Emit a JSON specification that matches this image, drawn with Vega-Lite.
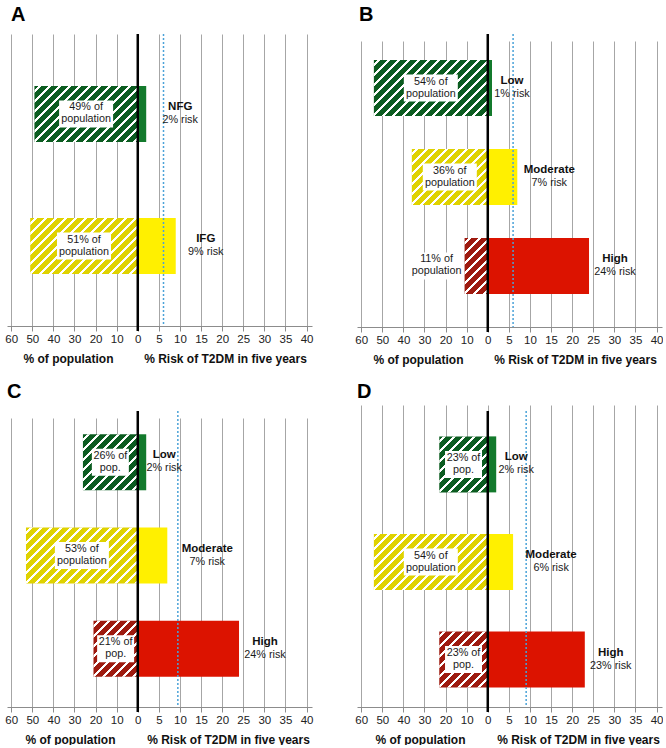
{
"$schema":"https://vega.github.io/schema/vega-lite/v6.json",
"padding":{"left":4,"top":4,"right":0,"bottom":0},
"params":[{"name":"hatchStops","value":[
{"offset":0,"color":"rgba(255,255,255,0)"},
{"offset":0.0222,"color":"rgba(255,255,255,0)"},{"offset":0.0222,"color":"#ffffff"},{"offset":0.0389,"color":"#ffffff"},{"offset":0.0389,"color":"rgba(255,255,255,0)"},
{"offset":0.0778,"color":"rgba(255,255,255,0)"},{"offset":0.0778,"color":"#ffffff"},{"offset":0.0944,"color":"#ffffff"},{"offset":0.0944,"color":"rgba(255,255,255,0)"},
{"offset":0.1333,"color":"rgba(255,255,255,0)"},{"offset":0.1333,"color":"#ffffff"},{"offset":0.15,"color":"#ffffff"},{"offset":0.15,"color":"rgba(255,255,255,0)"},
{"offset":0.1889,"color":"rgba(255,255,255,0)"},{"offset":0.1889,"color":"#ffffff"},{"offset":0.2056,"color":"#ffffff"},{"offset":0.2056,"color":"rgba(255,255,255,0)"},
{"offset":0.2444,"color":"rgba(255,255,255,0)"},{"offset":0.2444,"color":"#ffffff"},{"offset":0.2611,"color":"#ffffff"},{"offset":0.2611,"color":"rgba(255,255,255,0)"},
{"offset":0.3,"color":"rgba(255,255,255,0)"},{"offset":0.3,"color":"#ffffff"},{"offset":0.3167,"color":"#ffffff"},{"offset":0.3167,"color":"rgba(255,255,255,0)"},
{"offset":0.3556,"color":"rgba(255,255,255,0)"},{"offset":0.3556,"color":"#ffffff"},{"offset":0.3722,"color":"#ffffff"},{"offset":0.3722,"color":"rgba(255,255,255,0)"},
{"offset":0.4111,"color":"rgba(255,255,255,0)"},{"offset":0.4111,"color":"#ffffff"},{"offset":0.4278,"color":"#ffffff"},{"offset":0.4278,"color":"rgba(255,255,255,0)"},
{"offset":0.4667,"color":"rgba(255,255,255,0)"},{"offset":0.4667,"color":"#ffffff"},{"offset":0.4833,"color":"#ffffff"},{"offset":0.4833,"color":"rgba(255,255,255,0)"},
{"offset":0.5222,"color":"rgba(255,255,255,0)"},{"offset":0.5222,"color":"#ffffff"},{"offset":0.5389,"color":"#ffffff"},{"offset":0.5389,"color":"rgba(255,255,255,0)"},
{"offset":0.5778,"color":"rgba(255,255,255,0)"},{"offset":0.5778,"color":"#ffffff"},{"offset":0.5944,"color":"#ffffff"},{"offset":0.5944,"color":"rgba(255,255,255,0)"},
{"offset":0.6333,"color":"rgba(255,255,255,0)"},{"offset":0.6333,"color":"#ffffff"},{"offset":0.65,"color":"#ffffff"},{"offset":0.65,"color":"rgba(255,255,255,0)"},
{"offset":0.6889,"color":"rgba(255,255,255,0)"},{"offset":0.6889,"color":"#ffffff"},{"offset":0.7056,"color":"#ffffff"},{"offset":0.7056,"color":"rgba(255,255,255,0)"},
{"offset":0.7444,"color":"rgba(255,255,255,0)"},{"offset":0.7444,"color":"#ffffff"},{"offset":0.7611,"color":"#ffffff"},{"offset":0.7611,"color":"rgba(255,255,255,0)"},
{"offset":0.8,"color":"rgba(255,255,255,0)"},{"offset":0.8,"color":"#ffffff"},{"offset":0.8167,"color":"#ffffff"},{"offset":0.8167,"color":"rgba(255,255,255,0)"},
{"offset":0.8556,"color":"rgba(255,255,255,0)"},{"offset":0.8556,"color":"#ffffff"},{"offset":0.8722,"color":"#ffffff"},{"offset":0.8722,"color":"rgba(255,255,255,0)"},
{"offset":0.9111,"color":"rgba(255,255,255,0)"},{"offset":0.9111,"color":"#ffffff"},{"offset":0.9278,"color":"#ffffff"},{"offset":0.9278,"color":"rgba(255,255,255,0)"},
{"offset":0.9667,"color":"rgba(255,255,255,0)"},{"offset":0.9667,"color":"#ffffff"},{"offset":0.9833,"color":"#ffffff"},{"offset":0.9833,"color":"rgba(255,255,255,0)"},
{"offset":1,"color":"rgba(255,255,255,0)"}
]}],
"config":{
"view":{"stroke":null},
"font":"Liberation Sans",
"title":{"anchor":"start","fontSize":20,"fontWeight":"bold","font":"Liberation Sans","color":"#000","offset":8,"baseline":"alphabetic","frame":"group"},
"axis":{"labelFont":"Liberation Sans","titleFont":"Liberation Sans","labelFlush":false,"labelOverlap":false,"labelBound":false},
"text":{"color":"#1a1a1a","align":"center","baseline":"middle"}
},
"spacing":15,
"vconcat":[
{"spacing":41,"hconcat":[
{"width":305,"height":292,"title":{"text":"A","dx":4},
"data":{"values":[{"cat":"NFG","pop":49,"risk":2,"popLine1":"49% of","popLine2":"population","riskLabel":"2% risk"},{"cat":"IFG","pop":51,"risk":9,"popLine1":"51% of","popLine2":"population","riskLabel":"9% risk"}]},
"resolve":{"scale":{"x":"independent"},"axis":{"x":"independent"}},
"layer":[
{"mark":{"type":"bar","height":56},"encoding":{"x":{"field":"pop","type":"quantitative","scale":{"domain":[-82.6,62],"reverse":true,"nice":false,"zero":false},"axis":{"orient":"bottom","labels":false,"ticks":false,"domain":false,"grid":false,"title":"% of population","titleFontSize":12,"titleFontWeight":"bold","titleColor":"#111","titleX":61,"titleY":36.5,"titleBaseline":"alphabetic"}},"x2":{"datum":0},"y":{"field":"cat","type":"nominal","scale":{"domain":["NFG","IFG"],"paddingInner":0.5,"paddingOuter":0.356},"axis":null},"fill":{"field":"cat","type":"nominal","scale":{"domain":["NFG","IFG","Low","Moderate","High"],"range":["#0b5c20","#dfd200","#0b5c20","#dfd200","#9e1a0f"]},"legend":null}}},
{"mark":{"type":"bar","height":56},"encoding":{"x":{"field":"pop","type":"quantitative","scale":{"domain":[-82.6,62],"reverse":true,"nice":false,"zero":false},"axis":null},"x2":{"datum":0},"y":{"field":"cat","type":"nominal","scale":{"domain":["NFG","IFG"],"paddingInner":0.5,"paddingOuter":0.356},"axis":null},"fill":{"value":{"expr":"{'gradient':'linear','x1':0,'y1':0,'x2':180*datum.pop*2.10927/(pow(datum.pop*2.10927,2)+3136),'y2':10080/(pow(datum.pop*2.10927,2)+3136),'stops':hatchStops}"}}}},
{"mark":{"type":"point","shape":{"expr":"datum.popLine2=='population'?'M-27,-13.5L27,-13.5L27,13.5L-27,13.5Z':'M-18.5,-13.5L18.5,-13.5L18.5,13.5L-18.5,13.5Z'"},"size":4,"filled":true,"color":"#ffffff","opacity":1,"strokeWidth":0},"encoding":{"x":{"field":"pop","type":"quantitative","scale":{"domain":[-165.2,124],"reverse":true,"nice":false,"zero":false},"axis":null},"y":{"field":"cat","type":"nominal","scale":{"domain":["NFG","IFG"],"paddingInner":0.5,"paddingOuter":0.356},"axis":null}}},
{"mark":{"type":"text","fontSize":10.8,"dy":-6.5},"encoding":{"x":{"field":"pop","type":"quantitative","scale":{"domain":[-165.2,124],"reverse":true,"nice":false,"zero":false},"axis":null},"y":{"field":"cat","type":"nominal","scale":{"domain":["NFG","IFG"],"paddingInner":0.5,"paddingOuter":0.356},"axis":null},"text":{"field":"popLine1"}}},
{"mark":{"type":"text","fontSize":10.8,"dy":5.5},"encoding":{"x":{"field":"pop","type":"quantitative","scale":{"domain":[-165.2,124],"reverse":true,"nice":false,"zero":false},"axis":null},"y":{"field":"cat","type":"nominal","scale":{"domain":["NFG","IFG"],"paddingInner":0.5,"paddingOuter":0.356},"axis":null},"text":{"field":"popLine2"}}},
{"mark":{"type":"bar","height":56},"encoding":{"x":{"field":"risk","type":"quantitative","scale":{"domain":[-31,41.3],"nice":false,"zero":false},"axis":{"orient":"bottom","values":[-30,-25,-20,-15,-10,-5,0,5,10,15,20,25,30,35,40],"labelExpr":"datum.value < 0 ? format(-2*datum.value,'d') : datum.label","grid":true,"gridColor":"#a6a6a6","gridWidth":1,"domainColor":"#8c8c8c","domainWidth":1,"tickColor":"#8c8c8c","tickWidth":1,"tickSize":5,"labelFontSize":11.5,"labelColor":"#222","labelPadding":2,"title":"% Risk of T2DM in five years","titleFontSize":12,"titleFontWeight":"bold","titleColor":"#111","titleX":218,"titleY":36.5,"titleBaseline":"alphabetic"}},"x2":{"datum":0},"y":{"field":"cat","type":"nominal","scale":{"domain":["NFG","IFG"],"paddingInner":0.5,"paddingOuter":0.356},"axis":null},"color":{"field":"cat","type":"nominal","scale":{"domain":["NFG","IFG","Low","Moderate","High"],"range":["#137a2c","#fff000","#137a2c","#fff000","#dc1300"]},"legend":null}}},
{"data":{"values":[{}]},"mark":{"type":"rule","color":"#000","strokeWidth":2.5,"y2":297},"encoding":{"x":{"datum":0,"type":"quantitative","scale":{"domain":[-31,41.3],"nice":false,"zero":false},"axis":null}}},
{"data":{"values":[{}]},"mark":{"type":"rule","color":"#4aa2d8","strokeWidth":1.5,"strokeDash":[2,2]},"encoding":{"x":{"datum":6.1,"type":"quantitative","scale":{"domain":[-31,41.3],"nice":false,"zero":false},"axis":null}}},
{"mark":{"type":"text","fontSize":11.5,"fontWeight":"bold","color":"#111","dy":-7,"dx":{"expr":"datum.cat=='NFG'?34:datum.cat=='IFG'?30:datum.cat=='Low'?20:datum.cat=='Moderate'?36:26"}},"encoding":{"x":{"field":"risk","type":"quantitative","scale":{"domain":[-31,41.3],"nice":false,"zero":false},"axis":null},"y":{"field":"cat","type":"nominal","scale":{"domain":["NFG","IFG"],"paddingInner":0.5,"paddingOuter":0.356},"axis":null},"text":{"field":"cat"}}},
{"mark":{"type":"text","fontSize":10.8,"dy":6,"dx":{"expr":"datum.cat=='NFG'?34:datum.cat=='IFG'?30:datum.cat=='Low'?20:datum.cat=='Moderate'?36:26"}},"encoding":{"x":{"field":"risk","type":"quantitative","scale":{"domain":[-31,41.3],"nice":false,"zero":false},"axis":null},"y":{"field":"cat","type":"nominal","scale":{"domain":["NFG","IFG"],"paddingInner":0.5,"paddingOuter":0.356},"axis":null},"text":{"field":"riskLabel"}}}
]},
{"width":305,"height":293,"title":{"text":"B","dx":2},
"data":{"values":[{"cat":"Low","pop":54,"risk":1,"popLine1":"54% of","popLine2":"population","riskLabel":"1% risk"},{"cat":"Moderate","pop":36,"risk":7,"popLine1":"36% of","popLine2":"population","riskLabel":"7% risk"},{"cat":"High","pop":11,"risk":24,"popLine1":"11% of","popLine2":"population","riskLabel":"24% risk"}]},
"resolve":{"scale":{"x":"independent"},"axis":{"x":"independent"}},
"layer":[
{"mark":{"type":"bar","height":56},"encoding":{"x":{"field":"pop","type":"quantitative","scale":{"domain":[-82.6,62],"reverse":true,"nice":false,"zero":false},"axis":{"orient":"bottom","labels":false,"ticks":false,"domain":false,"grid":false,"title":"% of population","titleFontSize":12,"titleFontWeight":"bold","titleColor":"#111","titleX":61,"titleY":36.5,"titleBaseline":"alphabetic"}},"x2":{"datum":0},"y":{"field":"cat","type":"nominal","scale":{"domain":["Low","Moderate","High"],"range":[0,286],"paddingInner":0.5,"paddingOuter":0.357},"axis":null},"fill":{"field":"cat","type":"nominal","scale":{"domain":["NFG","IFG","Low","Moderate","High"],"range":["#0b5c20","#dfd200","#0b5c20","#dfd200","#9e1a0f"]},"legend":null}}},
{"mark":{"type":"bar","height":56},"encoding":{"x":{"field":"pop","type":"quantitative","scale":{"domain":[-82.6,62],"reverse":true,"nice":false,"zero":false},"axis":null},"x2":{"datum":0},"y":{"field":"cat","type":"nominal","scale":{"domain":["Low","Moderate","High"],"range":[0,286],"paddingInner":0.5,"paddingOuter":0.357},"axis":null},"fill":{"value":{"expr":"{'gradient':'linear','x1':0,'y1':0,'x2':180*datum.pop*2.10927/(pow(datum.pop*2.10927,2)+3136),'y2':10080/(pow(datum.pop*2.10927,2)+3136),'stops':hatchStops}"}}}},
{"transform":[{"filter":"datum.pop < 15"}],"mark":{"type":"point","shape":"M-55,-13.5L-1,-13.5L-1,13.5L-55,13.5Z","size":4,"filled":true,"color":"#ffffff","opacity":1,"strokeWidth":0},"encoding":{"x":{"field":"pop","type":"quantitative","scale":{"domain":[-82.6,62],"reverse":true,"nice":false,"zero":false},"axis":null},"y":{"field":"cat","type":"nominal","scale":{"domain":["Low","Moderate","High"],"range":[0,286],"paddingInner":0.5,"paddingOuter":0.357},"axis":null}}},
{"transform":[{"filter":"datum.pop < 15"}],"mark":{"type":"text","fontSize":10.8,"dx":-28,"dy":-6.5},"encoding":{"x":{"field":"pop","type":"quantitative","scale":{"domain":[-82.6,62],"reverse":true,"nice":false,"zero":false},"axis":null},"y":{"field":"cat","type":"nominal","scale":{"domain":["Low","Moderate","High"],"range":[0,286],"paddingInner":0.5,"paddingOuter":0.357},"axis":null},"text":{"field":"popLine1"}}},
{"transform":[{"filter":"datum.pop < 15"}],"mark":{"type":"text","fontSize":10.8,"dx":-28,"dy":5.5},"encoding":{"x":{"field":"pop","type":"quantitative","scale":{"domain":[-82.6,62],"reverse":true,"nice":false,"zero":false},"axis":null},"y":{"field":"cat","type":"nominal","scale":{"domain":["Low","Moderate","High"],"range":[0,286],"paddingInner":0.5,"paddingOuter":0.357},"axis":null},"text":{"field":"popLine2"}}},
{"transform":[{"filter":"datum.pop >= 15"}],"mark":{"type":"point","shape":{"expr":"datum.popLine2=='population'?'M-27,-13.5L27,-13.5L27,13.5L-27,13.5Z':'M-18.5,-13.5L18.5,-13.5L18.5,13.5L-18.5,13.5Z'"},"size":4,"filled":true,"color":"#ffffff","opacity":1,"strokeWidth":0},"encoding":{"x":{"field":"pop","type":"quantitative","scale":{"domain":[-165.2,124],"reverse":true,"nice":false,"zero":false},"axis":null},"y":{"field":"cat","type":"nominal","scale":{"domain":["Low","Moderate","High"],"range":[0,286],"paddingInner":0.5,"paddingOuter":0.357},"axis":null}}},
{"transform":[{"filter":"datum.pop >= 15"}],"mark":{"type":"text","fontSize":10.8,"dy":-6.5},"encoding":{"x":{"field":"pop","type":"quantitative","scale":{"domain":[-165.2,124],"reverse":true,"nice":false,"zero":false},"axis":null},"y":{"field":"cat","type":"nominal","scale":{"domain":["Low","Moderate","High"],"range":[0,286],"paddingInner":0.5,"paddingOuter":0.357},"axis":null},"text":{"field":"popLine1"}}},
{"transform":[{"filter":"datum.pop >= 15"}],"mark":{"type":"text","fontSize":10.8,"dy":5.5},"encoding":{"x":{"field":"pop","type":"quantitative","scale":{"domain":[-165.2,124],"reverse":true,"nice":false,"zero":false},"axis":null},"y":{"field":"cat","type":"nominal","scale":{"domain":["Low","Moderate","High"],"range":[0,286],"paddingInner":0.5,"paddingOuter":0.357},"axis":null},"text":{"field":"popLine2"}}},
{"mark":{"type":"bar","height":56},"encoding":{"x":{"field":"risk","type":"quantitative","scale":{"domain":[-31,41.3],"nice":false,"zero":false},"axis":{"orient":"bottom","values":[-30,-25,-20,-15,-10,-5,0,5,10,15,20,25,30,35,40],"labelExpr":"datum.value < 0 ? format(-2*datum.value,'d') : datum.label","grid":true,"gridColor":"#a6a6a6","gridWidth":1,"domainColor":"#8c8c8c","domainWidth":1,"tickColor":"#8c8c8c","tickWidth":1,"tickSize":5,"labelFontSize":11.5,"labelColor":"#222","labelPadding":2,"title":"% Risk of T2DM in five years","titleFontSize":12,"titleFontWeight":"bold","titleColor":"#111","titleX":218,"titleY":36.5,"titleBaseline":"alphabetic"}},"x2":{"datum":0},"y":{"field":"cat","type":"nominal","scale":{"domain":["Low","Moderate","High"],"range":[0,286],"paddingInner":0.5,"paddingOuter":0.357},"axis":null},"color":{"field":"cat","type":"nominal","scale":{"domain":["NFG","IFG","Low","Moderate","High"],"range":["#137a2c","#fff000","#137a2c","#fff000","#dc1300"]},"legend":null}}},
{"data":{"values":[{}]},"mark":{"type":"rule","color":"#000","strokeWidth":2.5,"y2":298},"encoding":{"x":{"datum":0,"type":"quantitative","scale":{"domain":[-31,41.3],"nice":false,"zero":false},"axis":null}}},
{"data":{"values":[{}]},"mark":{"type":"rule","color":"#4aa2d8","strokeWidth":1.5,"strokeDash":[2,2]},"encoding":{"x":{"datum":6.0,"type":"quantitative","scale":{"domain":[-31,41.3],"nice":false,"zero":false},"axis":null}}},
{"mark":{"type":"text","fontSize":11.5,"fontWeight":"bold","color":"#111","dy":-7,"dx":{"expr":"datum.cat=='NFG'?34:datum.cat=='IFG'?30:datum.cat=='Low'?20:datum.cat=='Moderate'?32:26"}},"encoding":{"x":{"field":"risk","type":"quantitative","scale":{"domain":[-31,41.3],"nice":false,"zero":false},"axis":null},"y":{"field":"cat","type":"nominal","scale":{"domain":["Low","Moderate","High"],"range":[0,286],"paddingInner":0.5,"paddingOuter":0.357},"axis":null},"text":{"field":"cat"}}},
{"mark":{"type":"text","fontSize":10.8,"dy":6,"dx":{"expr":"datum.cat=='NFG'?34:datum.cat=='IFG'?30:datum.cat=='Low'?20:datum.cat=='Moderate'?32:26"}},"encoding":{"x":{"field":"risk","type":"quantitative","scale":{"domain":[-31,41.3],"nice":false,"zero":false},"axis":null},"y":{"field":"cat","type":"nominal","scale":{"domain":["Low","Moderate","High"],"range":[0,286],"paddingInner":0.5,"paddingOuter":0.357},"axis":null},"text":{"field":"riskLabel"}}}
]}
]},
{"spacing":41,"hconcat":[
{"width":305,"height":296,"title":{"text":"C","dx":0},
"data":{"values":[{"cat":"Low","pop":26,"risk":2,"popLine1":"26% of","popLine2":"pop.","riskLabel":"2% risk"},{"cat":"Moderate","pop":53,"risk":7,"popLine1":"53% of","popLine2":"population","riskLabel":"7% risk"},{"cat":"High","pop":21,"risk":24,"popLine1":"21% of","popLine2":"pop.","riskLabel":"24% risk"}]},
"resolve":{"scale":{"x":"independent"},"axis":{"x":"independent"}},
"layer":[
{"mark":{"type":"bar","height":56},"encoding":{"x":{"field":"pop","type":"quantitative","scale":{"domain":[-82.6,62],"reverse":true,"nice":false,"zero":false},"axis":{"orient":"bottom","labels":false,"ticks":false,"domain":false,"grid":false,"title":"% of population","titleFontSize":12,"titleFontWeight":"bold","titleColor":"#111","titleX":63,"titleY":36,"titleBaseline":"alphabetic"}},"x2":{"datum":0},"y":{"field":"cat","type":"nominal","scale":{"domain":["Low","Moderate","High"],"range":[0,289],"paddingInner":0.5,"paddingOuter":0.3},"axis":null},"fill":{"field":"cat","type":"nominal","scale":{"domain":["NFG","IFG","Low","Moderate","High"],"range":["#0b5c20","#dfd200","#0b5c20","#dfd200","#9e1a0f"]},"legend":null}}},
{"mark":{"type":"bar","height":56},"encoding":{"x":{"field":"pop","type":"quantitative","scale":{"domain":[-82.6,62],"reverse":true,"nice":false,"zero":false},"axis":null},"x2":{"datum":0},"y":{"field":"cat","type":"nominal","scale":{"domain":["Low","Moderate","High"],"range":[0,289],"paddingInner":0.5,"paddingOuter":0.3},"axis":null},"fill":{"value":{"expr":"{'gradient':'linear','x1':0,'y1':0,'x2':180*datum.pop*2.10927/(pow(datum.pop*2.10927,2)+3136),'y2':10080/(pow(datum.pop*2.10927,2)+3136),'stops':hatchStops}"}}}},
{"mark":{"type":"point","shape":{"expr":"datum.popLine2=='population'?'M-27,-13.5L27,-13.5L27,13.5L-27,13.5Z':'M-18.5,-13.5L18.5,-13.5L18.5,13.5L-18.5,13.5Z'"},"size":4,"filled":true,"color":"#ffffff","opacity":1,"strokeWidth":0},"encoding":{"x":{"field":"pop","type":"quantitative","scale":{"domain":[-165.2,124],"reverse":true,"nice":false,"zero":false},"axis":null},"y":{"field":"cat","type":"nominal","scale":{"domain":["Low","Moderate","High"],"range":[0,289],"paddingInner":0.5,"paddingOuter":0.3},"axis":null}}},
{"mark":{"type":"text","fontSize":10.8,"dy":-6.5},"encoding":{"x":{"field":"pop","type":"quantitative","scale":{"domain":[-165.2,124],"reverse":true,"nice":false,"zero":false},"axis":null},"y":{"field":"cat","type":"nominal","scale":{"domain":["Low","Moderate","High"],"range":[0,289],"paddingInner":0.5,"paddingOuter":0.3},"axis":null},"text":{"field":"popLine1"}}},
{"mark":{"type":"text","fontSize":10.8,"dy":5.5},"encoding":{"x":{"field":"pop","type":"quantitative","scale":{"domain":[-165.2,124],"reverse":true,"nice":false,"zero":false},"axis":null},"y":{"field":"cat","type":"nominal","scale":{"domain":["Low","Moderate","High"],"range":[0,289],"paddingInner":0.5,"paddingOuter":0.3},"axis":null},"text":{"field":"popLine2"}}},
{"mark":{"type":"bar","height":56},"encoding":{"x":{"field":"risk","type":"quantitative","scale":{"domain":[-31,41.3],"nice":false,"zero":false},"axis":{"orient":"bottom","values":[-30,-25,-20,-15,-10,-5,0,5,10,15,20,25,30,35,40],"labelExpr":"datum.value < 0 ? format(-2*datum.value,'d') : datum.label","grid":true,"gridColor":"#a6a6a6","gridWidth":1,"domainColor":"#8c8c8c","domainWidth":1,"tickColor":"#8c8c8c","tickWidth":1,"tickSize":5,"labelFontSize":11.5,"labelColor":"#222","labelPadding":2,"title":"% Risk of T2DM in five years","titleFontSize":12,"titleFontWeight":"bold","titleColor":"#111","titleX":221,"titleY":36,"titleBaseline":"alphabetic"}},"x2":{"datum":0},"y":{"field":"cat","type":"nominal","scale":{"domain":["Low","Moderate","High"],"range":[0,289],"paddingInner":0.5,"paddingOuter":0.3},"axis":null},"color":{"field":"cat","type":"nominal","scale":{"domain":["NFG","IFG","Low","Moderate","High"],"range":["#137a2c","#fff000","#137a2c","#fff000","#dc1300"]},"legend":null}}},
{"data":{"values":[{}]},"mark":{"type":"rule","color":"#000","strokeWidth":2.5,"y2":301},"encoding":{"x":{"datum":0,"type":"quantitative","scale":{"domain":[-31,41.3],"nice":false,"zero":false},"axis":null}}},
{"data":{"values":[{}]},"mark":{"type":"rule","color":"#4aa2d8","strokeWidth":1.5,"strokeDash":[2,2]},"encoding":{"x":{"datum":9.5,"type":"quantitative","scale":{"domain":[-31,41.3],"nice":false,"zero":false},"axis":null}}},
{"mark":{"type":"text","fontSize":11.5,"fontWeight":"bold","color":"#111","dy":-7,"dx":{"expr":"datum.cat=='NFG'?34:datum.cat=='IFG'?30:datum.cat=='Low'?18:datum.cat=='Moderate'?40:26"}},"encoding":{"x":{"field":"risk","type":"quantitative","scale":{"domain":[-31,41.3],"nice":false,"zero":false},"axis":null},"y":{"field":"cat","type":"nominal","scale":{"domain":["Low","Moderate","High"],"range":[0,289],"paddingInner":0.5,"paddingOuter":0.3},"axis":null},"text":{"field":"cat"}}},
{"mark":{"type":"text","fontSize":10.8,"dy":6,"dx":{"expr":"datum.cat=='NFG'?34:datum.cat=='IFG'?30:datum.cat=='Low'?18:datum.cat=='Moderate'?40:26"}},"encoding":{"x":{"field":"risk","type":"quantitative","scale":{"domain":[-31,41.3],"nice":false,"zero":false},"axis":null},"y":{"field":"cat","type":"nominal","scale":{"domain":["Low","Moderate","High"],"range":[0,289],"paddingInner":0.5,"paddingOuter":0.3},"axis":null},"text":{"field":"riskLabel"}}}
]},
{"width":305,"height":296,"title":{"text":"D","dx":0},
"data":{"values":[{"cat":"Low","pop":23,"risk":2,"popLine1":"23% of","popLine2":"pop.","riskLabel":"2% risk"},{"cat":"Moderate","pop":54,"risk":6,"popLine1":"54% of","popLine2":"population","riskLabel":"6% risk"},{"cat":"High","pop":23,"risk":23,"popLine1":"23% of","popLine2":"pop.","riskLabel":"23% risk"}]},
"resolve":{"scale":{"x":"independent"},"axis":{"x":"independent"}},
"layer":[
{"mark":{"type":"bar","height":56},"encoding":{"x":{"field":"pop","type":"quantitative","scale":{"domain":[-82.6,62],"reverse":true,"nice":false,"zero":false},"axis":{"orient":"bottom","labels":false,"ticks":false,"domain":false,"grid":false,"title":"% of population","titleFontSize":12,"titleFontWeight":"bold","titleColor":"#111","titleX":63,"titleY":36,"titleBaseline":"alphabetic"}},"x2":{"datum":0},"y":{"field":"cat","type":"nominal","scale":{"domain":["Low","Moderate","High"],"range":[0,302],"paddingInner":0.5,"paddingOuter":0.297},"axis":null},"fill":{"field":"cat","type":"nominal","scale":{"domain":["NFG","IFG","Low","Moderate","High"],"range":["#0b5c20","#dfd200","#0b5c20","#dfd200","#9e1a0f"]},"legend":null}}},
{"mark":{"type":"bar","height":56},"encoding":{"x":{"field":"pop","type":"quantitative","scale":{"domain":[-82.6,62],"reverse":true,"nice":false,"zero":false},"axis":null},"x2":{"datum":0},"y":{"field":"cat","type":"nominal","scale":{"domain":["Low","Moderate","High"],"range":[0,302],"paddingInner":0.5,"paddingOuter":0.297},"axis":null},"fill":{"value":{"expr":"{'gradient':'linear','x1':0,'y1':0,'x2':180*datum.pop*2.10927/(pow(datum.pop*2.10927,2)+3136),'y2':10080/(pow(datum.pop*2.10927,2)+3136),'stops':hatchStops}"}}}},
{"mark":{"type":"point","shape":{"expr":"datum.popLine2=='population'?'M-27,-13.5L27,-13.5L27,13.5L-27,13.5Z':'M-18.5,-13.5L18.5,-13.5L18.5,13.5L-18.5,13.5Z'"},"size":4,"filled":true,"color":"#ffffff","opacity":1,"strokeWidth":0},"encoding":{"x":{"field":"pop","type":"quantitative","scale":{"domain":[-165.2,124],"reverse":true,"nice":false,"zero":false},"axis":null},"y":{"field":"cat","type":"nominal","scale":{"domain":["Low","Moderate","High"],"range":[0,302],"paddingInner":0.5,"paddingOuter":0.297},"axis":null}}},
{"mark":{"type":"text","fontSize":10.8,"dy":-6.5},"encoding":{"x":{"field":"pop","type":"quantitative","scale":{"domain":[-165.2,124],"reverse":true,"nice":false,"zero":false},"axis":null},"y":{"field":"cat","type":"nominal","scale":{"domain":["Low","Moderate","High"],"range":[0,302],"paddingInner":0.5,"paddingOuter":0.297},"axis":null},"text":{"field":"popLine1"}}},
{"mark":{"type":"text","fontSize":10.8,"dy":5.5},"encoding":{"x":{"field":"pop","type":"quantitative","scale":{"domain":[-165.2,124],"reverse":true,"nice":false,"zero":false},"axis":null},"y":{"field":"cat","type":"nominal","scale":{"domain":["Low","Moderate","High"],"range":[0,302],"paddingInner":0.5,"paddingOuter":0.297},"axis":null},"text":{"field":"popLine2"}}},
{"mark":{"type":"bar","height":56},"encoding":{"x":{"field":"risk","type":"quantitative","scale":{"domain":[-31,41.3],"nice":false,"zero":false},"axis":{"orient":"bottom","values":[-30,-25,-20,-15,-10,-5,0,5,10,15,20,25,30,35,40],"labelExpr":"datum.value < 0 ? format(-2*datum.value,'d') : datum.label","grid":true,"gridColor":"#a6a6a6","gridWidth":1,"domainColor":"#8c8c8c","domainWidth":1,"tickColor":"#8c8c8c","tickWidth":1,"tickSize":5,"labelFontSize":11.5,"labelColor":"#222","labelPadding":2,"title":"% Risk of T2DM in five years","titleFontSize":12,"titleFontWeight":"bold","titleColor":"#111","titleX":221,"titleY":36,"titleBaseline":"alphabetic"}},"x2":{"datum":0},"y":{"field":"cat","type":"nominal","scale":{"domain":["Low","Moderate","High"],"range":[0,302],"paddingInner":0.5,"paddingOuter":0.297},"axis":null},"color":{"field":"cat","type":"nominal","scale":{"domain":["NFG","IFG","Low","Moderate","High"],"range":["#137a2c","#fff000","#137a2c","#fff000","#dc1300"]},"legend":null}}},
{"data":{"values":[{}]},"mark":{"type":"rule","color":"#000","strokeWidth":2.5,"y2":301},"encoding":{"x":{"datum":0,"type":"quantitative","scale":{"domain":[-31,41.3],"nice":false,"zero":false},"axis":null}}},
{"data":{"values":[{}]},"mark":{"type":"rule","color":"#4aa2d8","strokeWidth":1.5,"strokeDash":[2,2]},"encoding":{"x":{"datum":9.1,"type":"quantitative","scale":{"domain":[-31,41.3],"nice":false,"zero":false},"axis":null}}},
{"mark":{"type":"text","fontSize":11.5,"fontWeight":"bold","color":"#111","dy":-7,"dx":{"expr":"datum.cat=='NFG'?34:datum.cat=='IFG'?30:datum.cat=='Low'?20:datum.cat=='Moderate'?38:26"}},"encoding":{"x":{"field":"risk","type":"quantitative","scale":{"domain":[-31,41.3],"nice":false,"zero":false},"axis":null},"y":{"field":"cat","type":"nominal","scale":{"domain":["Low","Moderate","High"],"range":[0,302],"paddingInner":0.5,"paddingOuter":0.297},"axis":null},"text":{"field":"cat"}}},
{"mark":{"type":"text","fontSize":10.8,"dy":6,"dx":{"expr":"datum.cat=='NFG'?34:datum.cat=='IFG'?30:datum.cat=='Low'?20:datum.cat=='Moderate'?38:26"}},"encoding":{"x":{"field":"risk","type":"quantitative","scale":{"domain":[-31,41.3],"nice":false,"zero":false},"axis":null},"y":{"field":"cat","type":"nominal","scale":{"domain":["Low","Moderate","High"],"range":[0,302],"paddingInner":0.5,"paddingOuter":0.297},"axis":null},"text":{"field":"riskLabel"}}}
]}
]}
]
}
